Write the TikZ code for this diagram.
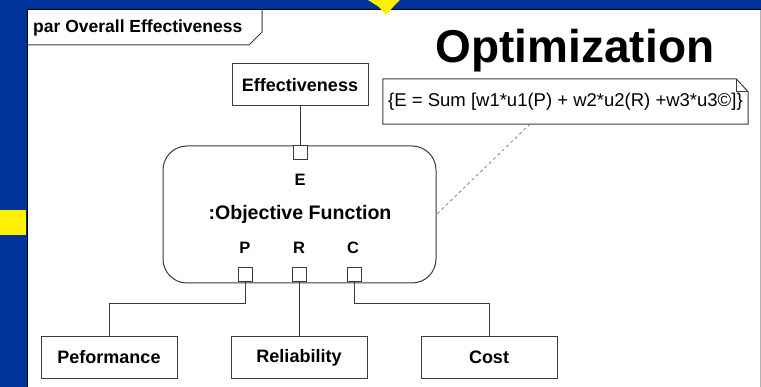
\documentclass[tikz,border=0pt]{standalone}
\usepackage{fontspec}
\setmainfont{Liberation Sans}
\definecolor{slideblue}{RGB}{0,51,153}
\definecolor{linegray}{RGB}{60,60,60}
\tikzset{
  blk/.style={draw=linegray, line width=1pt, fill=white, minimum width=136pt, minimum height=42pt, inner sep=0pt, font=\fontsize{18}{20}\selectfont\bfseries},
  port/.style={draw=linegray, line width=1pt, fill=white, minimum size=14pt, inner sep=0pt},
  portlbl/.style={anchor=base, inner sep=0pt, font=\fontsize{16.5}{18}\selectfont\bfseries},
  wire/.style={draw=linegray, line width=1pt},
}
\begin{document}
\begin{tikzpicture}[x=1pt, y=-1pt]
		\useasboundingbox (0,0) rectangle (761,387);
		\fill[slideblue] (0,0) rectangle (761,387);
		\fill[yellow] (0,210) rectangle (26,235);
		\fill[white] (27,10) rectangle (761,388);
		\draw[black, line width=1pt] (27,388) -- (27,10) -- (761,10);
		\draw[gray!60, line width=1pt] (760,10) -- (760,388);
		\fill[yellow] (368,0) -- (400,0) -- (393,7) -- (386,15) -- (379,7) -- cycle;
		\draw[linegray, line width=1pt] (27,45) -- (249,45) -- (262,32) -- (262,10);
		\node[anchor=base west, inner sep=0pt, font=\fontsize{17.5}{19}\selectfont\bfseries] (frametitle) at (33,33) {par Overall Effectiveness};
		\node[anchor=base, inner sep=0pt, font=\fontsize{46}{50}\selectfont\bfseries] (title) at (575,63) {Optimization};
		\node[blk] (eff) at (300,85) {Effectiveness};
		\node[draw=linegray, line width=1pt, rounded corners=24pt, minimum width=273pt, minimum height=137pt] (obj) at (299.5,214.5) {};
		\node[port] (pE) at (300,153) {};
		\node[port] (pP) at (245,275) {};
		\node[port] (pR) at (299,275) {};
		\node[port] (pC) at (354,275) {};
		\node[portlbl] (lblE) at (300,186) {E};
		\node[portlbl] (lblP) at (245,254) {P};
		\node[portlbl] (lblR) at (299,254) {R};
		\node[portlbl] (lblC) at (353,254) {C};
		\node[anchor=base, inner sep=0pt, font=\fontsize{19.6}{22}\selectfont\bfseries] (objname) at (300,220) {:Objective Function};
		\node[blk] (perf) at (109,357.5) {Peformance};
		\node[blk] (rel) at (299,357.5) {Reliability};
		\node[blk] (cost) at (489,357.5) {Cost};
		\draw[wire] (eff.south) -- (pE.north);
		\draw[wire] (pP.south) -- ++(0,21) -| (perf.north);
		\draw[wire] (pR.south) -- (rel.north);
		\draw[wire] (pC.south) -- ++(0,21) -| (cost.north);
		\node[minimum width=365pt, minimum height=45pt, inner sep=0pt, font=\fontsize{18.5}{20}\selectfont] (note) at (565.5,101.5) {\{E = Sum [w1*u1(P) + w2*u2(R) +w3*u3©]\}};
		\draw[linegray, line width=1pt] (note.north west) -- ([xshift=-12pt]note.north east) -- ([yshift=-13pt]note.north east) -- (note.south east) -- (note.south west) -- cycle;
		\draw[linegray, line width=0.7pt] ([xshift=-12pt]note.north east) -- ++(0,13) -- ([yshift=-13pt]note.north east);
		\coordinate (notefoot) at (530,124);
		\draw[gray, line width=0.8pt, dash pattern=on 3pt off 3pt] (notefoot) -- (obj.east);
\end{tikzpicture}
\end{document}
